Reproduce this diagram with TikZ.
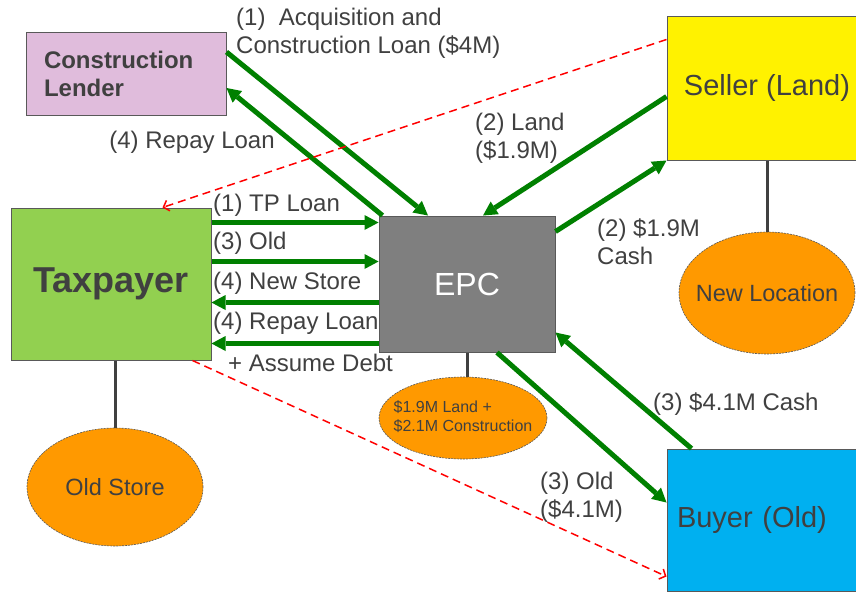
\documentclass[tikz,border=0pt]{standalone}
\usepackage{fontspec}
\setmainfont{Liberation Sans}
\usepackage{tikz}
\usetikzlibrary{shapes.geometric, arrows.meta}

\definecolor{inkgray}{HTML}{404040}
\definecolor{edgegray}{HTML}{595959}
\definecolor{flowgreen}{HTML}{008000}
\definecolor{lenderfill}{HTML}{E0BCDC}
\definecolor{tpfill}{HTML}{92D050}
\definecolor{epcfill}{HTML}{7F7F7F}
\definecolor{buyerfill}{HTML}{00B0F0}
\definecolor{blobfill}{HTML}{FF9900}

\begin{document}
\begin{tikzpicture}[x=1pt, y=-1pt,
                box/.style={rectangle, draw=edgegray, line width=1pt, inner sep=0pt, text=inkgray}, % parties
                blob/.style={ellipse, draw=edgegray, dash pattern=on 2pt off 1pt, line width=0.6pt, fill=blobfill, inner sep=0pt, text=inkgray}, % properties
                flow/.style={draw=flowgreen, line width=5pt, -{Triangle[length=14pt, width=15pt, line width=0pt]}}, % transfers
                hint/.style={draw=red, dash pattern=on 8pt off 5pt, line width=1.5pt, -{Straight Barb[length=5pt, width=11pt]}}, % net effect
                tie/.style={draw=inkgray, line width=3pt}, % owner to property
                lbl/.style={inner sep=0pt, text=inkgray, font=\fontsize{24}{28}\selectfont, align=left} % arrow labels
                ]
                \path[fill=white, use as bounding box] (0,0) rectangle (856,595);

                % parties
                \node[box, fill=lenderfill, minimum width=200pt, minimum height=83pt, text width=164pt, align=left, font=\fontsize{24}{28}\selectfont\bfseries] (lender) at (126,74) {Construction\\Lender};
                \node[box, fill=tpfill, minimum width=200pt, minimum height=152pt, font=\fontsize{36}{40}\selectfont\bfseries] (taxpayer) at (111,284) {Taxpayer};
                \node[box, fill=epcfill, minimum width=176pt, minimum height=136pt, text=white, font=\fontsize{32}{36}\selectfont] (epc) at (467,284) {EPC};
                \node[box, fill=yellow, minimum width=200pt, minimum height=144pt, font=\fontsize{29}{33}\selectfont] (seller) at (767,88) {Seller (Land)};
                \node[box, fill=buyerfill, minimum width=200pt, minimum height=142pt, text width=180pt, align=left, font=\fontsize{29}{33}\selectfont] (buyer) at (767,520) {Buyer (Old)};

                % properties
                \node[blob, minimum width=176pt, minimum height=118pt, font=\fontsize{23.5}{27}\selectfont] (oldstore) at (115,487) {Old Store};
                \node[blob, minimum width=176pt, minimum height=122pt, font=\fontsize{23.5}{27}\selectfont] (newloc) at (767,293) {\makebox[0pt]{New Location}};
                \node[blob, minimum width=168pt, minimum height=82pt, font=\fontsize{16}{19}\selectfont] (epcnote) at (463,418) {\makebox[0pt]{\begin{tabular}{@{}l@{}}\$1.9M Land +\\\$2.1M Construction\end{tabular}}};

                \draw[tie] (taxpayer.south -| oldstore.north) -- (oldstore.north);
                \draw[tie] (seller.south) -- (newloc.north);
                \draw[tie] (epc.south) -- (epc.south |- epcnote.north);

                % transfers
                \draw[flow] ([yshift=-20pt]lender.north east) -- ([xshift=-39pt]epc.north);
                \draw[flow] ([xshift=4pt]epc.north west) -- ([yshift=-56pt]lender.north east);
                \draw[flow] ([yshift=-81pt]seller.north west) -- ([xshift=16pt]epc.north);
                \draw[flow] ([yshift=-16pt]epc.north east) -- (seller.south west);
                \draw[flow] ([yshift=-15pt]taxpayer.north east) -- ([yshift=-15pt]taxpayer.north east -| epc.west);
                \draw[flow] ([yshift=-54pt]taxpayer.north east) -- ([yshift=-54pt]taxpayer.north east -| epc.west);
                \draw[flow] ([yshift=-95pt]taxpayer.north east -| epc.west) -- ([yshift=-95pt]taxpayer.north east);
                \draw[flow] ([yshift=-136pt]taxpayer.north east -| epc.west) -- ([yshift=-136pt]taxpayer.north east);
                \draw[flow] ([xshift=30pt]epc.south) -- ([yshift=-54pt]buyer.north west);
                \draw[flow] ([xshift=25pt]buyer.north west) -- ([yshift=20pt]epc.south east);

                % net effect
                \draw[hint] ([yshift=-24pt]seller.north west) -- ([xshift=152pt]taxpayer.north west);
                \draw[hint] ([xshift=182pt]taxpayer.south west) -- ([yshift=-128pt]buyer.north west);

                % labels
                \node[lbl, anchor=west] (acqlbl) at (236,33) {(1)\ \ Acquisition and\\Construction Loan (\$4M)};
                \node[lbl] (repaylbl) at (192,142) {(4) Repay Loan};
                \node[lbl, anchor=west] (landlbl) at (475,138) {(2) Land\\(\$1.9M)};
                \node[lbl, anchor=west] (cashlbl) at (597,242) {(2) \$1.9M\\Cash};
                \node[lbl, anchor=west] (tplbl) at (213,205) {(1) TP Loan};
                \node[lbl, anchor=west] (oldlbl) at (213,243) {(3) Old};
                \node[lbl, anchor=west] (storelbl) at (213,283) {(4) New Store};
                \node[lbl, anchor=west] (backlbl) at (213,323) {(4) Repay Loan};
                \node[lbl, anchor=west] (debtlbl) at (228,363) {+ Assume Debt};
                \node[lbl, anchor=west] (buycashlbl) at (653,404) {(3) \$4.1M Cash};
                \node[lbl, anchor=west] (salelbl) at (540,497) {(3) Old\\(\$4.1M)};
            \end{tikzpicture}
\end{document}
